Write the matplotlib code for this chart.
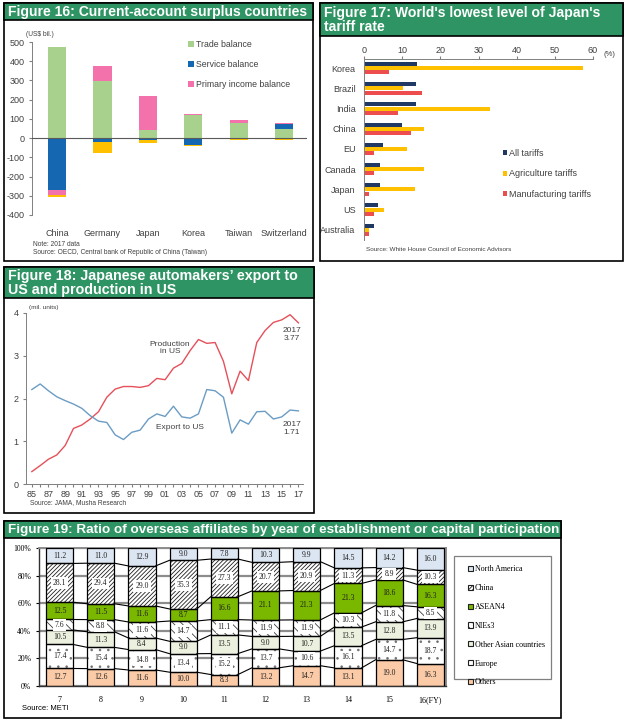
import matplotlib
matplotlib.use('Agg')
import numpy as np
from matplotlib import pyplot as plt
from matplotlib.patches import Rectangle, Patch

plt.rcParams['font.family'] = ['Liberation Sans', 'DejaVu Sans']
plt.rcParams['hatch.linewidth'] = 0.6
plt.rcParams['axes.unicode_minus'] = False

W, H = 629, 724
GREEN = '#2f9463'
GREY_TXT = '#404040'

# Figure 16: current account (US$ bil.)
ca_countries = ['China', 'Germany', 'Japan', 'Korea', 'Taiwan', 'Switzerland']
trade_balance = [476, 297, 44, 120, 80, 50]
service_balance = [-268, -20, -8, -36, -6, 22]
primary_income = [-29, 78, 176, 4, 16, 6]
secondary_income = [-10, -58, -20, -4, -3, -10]

# Figure 17: tariff rates (%)
tariff_countries = ['Korea', 'Brazil', 'India', 'China', 'EU', 'Canada', 'Japan', 'US', 'Australia']
all_tariffs = [14.0, 13.6, 13.6, 10.0, 5.1, 4.2, 4.2, 3.6, 2.6]
agri_tariffs = [57.3, 10.1, 33.0, 15.6, 11.2, 15.6, 13.3, 5.3, 1.2]
manuf_tariffs = [6.6, 15.3, 8.9, 12.3, 2.6, 2.6, 1.2, 2.5, 1.2]

# Figure 18: mil. units
years = list(range(1985, 2018))
production_us = [0.29, 0.43, 0.58, 0.68, 0.90, 1.30, 1.38, 1.52, 1.69, 2.03,
                 2.22, 2.28, 2.28, 2.26, 2.30, 2.47, 2.44, 2.71, 2.82, 3.12,
                 3.38, 3.29, 3.31, 2.87, 2.11, 2.64, 2.42, 3.31, 3.59, 3.78,
                 3.84, 3.96, 3.77]
export_us = [2.21, 2.34, 2.18, 2.04, 1.95, 1.87, 1.77, 1.60, 1.47, 1.44,
             1.15, 1.04, 1.21, 1.26, 1.52, 1.64, 1.58, 1.82, 1.57, 1.54,
             1.64, 2.21, 2.18, 2.03, 1.19, 1.50, 1.40, 1.69, 1.70, 1.52,
             1.57, 1.73, 1.71]

# Figure 19: share of overseas affiliates (%)
fy_labels = ['7', '8', '9', '10', '11', '12', '13', '14', '15', '16(FY)']
others = [12.7, 12.6, 11.6, 10.0, 8.3, 13.2, 14.7, 13.1, 19.0, 16.3]
europe = [17.4, 15.4, 14.8, 13.4, 15.2, 13.7, 10.6, 16.1, 14.7, 18.7]
other_asia = [10.5, 11.3, 8.4, 9.0, 13.5, 9.0, 10.7, 13.5, 12.8, 13.9]
nies3 = [7.6, 8.8, 11.6, 14.7, 11.1, 11.9, 11.9, 10.3, 11.8, 8.5]
asean4 = [12.5, 11.5, 11.6, 8.7, 16.6, 21.1, 21.3, 21.3, 18.6, 16.3]
china = [28.1, 29.4, 29.0, 35.3, 27.3, 20.7, 20.9, 11.3, 8.9, 10.3]
north_america = [11.2, 11.0, 12.9, 9.0, 7.8, 10.3, 9.9, 14.5, 14.2, 16.0]

fig = plt.figure(figsize=(W / 100, H / 100), dpi=100)
renderer = fig.canvas.get_renderer()


def new_axes(x0, y0, x1, y1):
    return fig.add_axes([x0 / W, 1 - y1 / H, (x1 - x0) / W, (y1 - y0) / H])


def px_text(x, y, s, **kw):
    return fig.text(x / W, 1 - y / H, s, **kw)


def box(x0, y0, x1, y1, **kw):
    fig.add_artist(Rectangle((x0 / W, 1 - y1 / H), (x1 - x0) / W, (y1 - y0) / H,
                             transform=fig.transFigure, **kw))


def panel(x0, y0, x1, y_title, y1, title, title_width):
    box(x0, y0, x1, y1, facecolor='none', edgecolor='black', lw=1.2, zorder=5)
    box(x0, y0, x1, y_title, facecolor=GREEN, edgecolor='black', lw=1.2, zorder=5)
    t = px_text(x0 + 4, (y0 + y_title) / 2 + 0.5, title, color='white', fontweight='bold',
                fontsize=11, va='center', ha='left', linespacing=1.05, zorder=6)
    w = t.get_window_extent(renderer).width
    t.set_fontsize(11 * title_width / w)


panel(4, 3, 313, 20, 261, 'Figure 16: Current-account surplus countries', 300)
panel(320, 3, 623, 36, 261, "Figure 17: World's lowest level of Japan's\ntariff rate", 277)
panel(4, 267, 314, 298, 513, 'Figure 18: Japanese automakers\u2019 export to\nUS and production in US', 289)
panel(4, 521, 561, 538, 718,
      'Figure 19: Ratio of overseas affiliates by year of establishment or capital participation', 550)

# ---- Figure 16
ax1 = new_axes(32, 42, 307, 215)
x = np.arange(len(ca_countries))
pos_bottom = np.zeros(len(x))
neg_bottom = np.zeros(len(x))
for vals, color, label in [(trade_balance, '#a9d18e', 'Trade balance'),
                           (service_balance, '#1467b0', 'Service balance'),
                           (primary_income, '#f472ab', 'Primary income balance'),
                           (secondary_income, '#ffc000', '_nolegend_')]:
    vals = np.array(vals, dtype=float)
    bottoms = np.where(vals >= 0, pos_bottom, neg_bottom)
    ax1.bar(x, vals, 0.4, bottom=bottoms, color=color, label=label, zorder=2)
    pos_bottom += np.clip(vals, 0, None)
    neg_bottom += np.clip(vals, None, 0)
ax1.axhline(0, color='#595959', lw=0.8, zorder=3)
ax1.set_xlim(-0.55, 5.5)
ax1.set_ylim(-400, 500)
ax1.set_yticks(range(-400, 501, 100))
ax1.set_xticks(x)
ax1.set_xticklabels(ca_countries)
ax1.tick_params(axis='x', length=0, labelsize=6.5, labelcolor=GREY_TXT, pad=10)
ax1.tick_params(axis='y', length=2, labelsize=6.5, labelcolor=GREY_TXT, color='#808080')
for s in ['top', 'right', 'bottom']:
    ax1.spines[s].set_visible(False)
ax1.spines['left'].set_color('#808080')
ax1.spines['left'].set_linewidth(0.7)
ax1.legend(loc='upper left', bbox_to_anchor=(0.54, 1.055), frameon=False, fontsize=6.3,
           handlelength=0.65, handleheight=0.65, handletextpad=0.2, labelspacing=1.25,
           labelcolor=GREY_TXT)
px_text(26, 34, '(US$ bil.)', fontsize=4.8, color=GREY_TXT, va='center')
px_text(33, 245, 'Note: 2017 data', fontsize=4.8, color=GREY_TXT, va='center')
px_text(33, 252, 'Source: OECD, Central bank of Republic of China (Taiwan)', fontsize=4.8,
        color=GREY_TXT, va='center')

# ---- Figure 17
ax2 = new_axes(364, 59, 593, 240)
y = np.arange(len(tariff_countries))
ax2.barh(y - 0.21, all_tariffs, 0.2, color='#203864', label='All tariffs')
ax2.barh(y, agri_tariffs, 0.2, color='#ffc000', label='Agriculture tariffs')
ax2.barh(y + 0.21, manuf_tariffs, 0.2, color='#ee4d4d', label='Manufacturing tariffs')
ax2.set_xlim(0, 60)
ax2.set_ylim(8.5, -0.45)
ax2.xaxis.tick_top()
ax2.set_xticks(range(0, 61, 10))
ax2.set_yticks(y)
ax2.set_yticklabels(tariff_countries)
ax2.tick_params(axis='x', length=2, labelsize=6.5, labelcolor=GREY_TXT, color='#808080', pad=1)
ax2.tick_params(axis='y', length=0, labelsize=6.5, labelcolor=GREY_TXT, pad=6)
for s in ['right', 'bottom']:
    ax2.spines[s].set_visible(False)
for s in ['top', 'left']:
    ax2.spines[s].set_color('#808080')
    ax2.spines[s].set_linewidth(0.7)
ax2.legend(loc='upper left', bbox_to_anchor=(0.57, 0.55), frameon=False, fontsize=6.5,
           handlelength=0.5, handleheight=0.5, handletextpad=0.2, labelspacing=1.3,
           labelcolor=GREY_TXT)
px_text(604, 55, '(%)', fontsize=5.5, color=GREY_TXT, va='center')
px_text(366, 250, 'Source: White House Council of Economic Advisors', fontsize=4.6,
        color=GREY_TXT, va='center')

# ---- Figure 18
ax3 = new_axes(26, 313, 303, 484)
ax3.plot(years, production_us, color='#e5505a', lw=1)
ax3.plot(years, export_us, color='#6b9cc4', lw=1)
ax3.set_xlim(1984.3, 2017.55)
ax3.set_ylim(0, 4)
ax3.set_yticks(range(0, 5))
ax3.set_xticks(years)
ax3.set_xticklabels([f'{yr % 100:02d}' if (yr - 1985) % 2 == 0 else '' for yr in years])
ax3.tick_params(axis='x', length=2, labelsize=6.5, labelcolor=GREY_TXT, color='#808080', pad=2)
ax3.tick_params(axis='y', length=2, labelsize=6.5, labelcolor=GREY_TXT, color='#808080')
for s in ['top', 'right']:
    ax3.spines[s].set_visible(False)
for s in ['left', 'bottom']:
    ax3.spines[s].set_color('#808080')
    ax3.spines[s].set_linewidth(0.7)
ax3.text(2001.6, 3.18, 'Production\nin US', fontsize=6, color=GREY_TXT, ha='center', va='center',
         linespacing=1.1)
ax3.text(2002.8, 1.33, 'Export to US', fontsize=6, color=GREY_TXT, ha='center', va='center')
ax3.text(2016.2, 3.50, '2017\n3.77', fontsize=6, color=GREY_TXT, ha='center', va='center',
         linespacing=1.1)
ax3.text(2016.2, 1.30, '2017\n1.71', fontsize=6, color=GREY_TXT, ha='center', va='center',
         linespacing=1.1)
px_text(29, 307, '(mil. units)', fontsize=4.6, color=GREY_TXT, va='center')
px_text(30, 503, 'Source: JAMA, Musha Research', fontsize=4.8, color=GREY_TXT, va='center')

# ---- Figure 19
SERIF = ['Liberation Serif', 'DejaVu Serif']
ax4 = new_axes(39, 548, 446, 686)
series = [('Others', others, '#fbcaa6', None, None),
          ('Europe', europe, 'white', '..', '#707070'),
          ('Other Asian countries', other_asia, '#ebf1de', None, None),
          ('NIEs3', nies3, 'white', '\\\\\\\\', '#404040'),
          ('ASEAN4', asean4, '#7ab800', None, None),
          ('China', china, 'white', '////////', '#202020'),
          ('North America', north_america, '#dce6f2', None, None)]
xb = np.arange(len(fy_labels))
bw = 0.66
bottom = np.zeros(len(xb))
levels = []
handles = []
for name, vals, face, hatch, hcol in series:
    vals = np.array(vals, dtype=float)
    ax4.bar(xb, vals, bw, bottom=bottom, color=face, hatch=hatch,
            edgecolor=hcol if hatch else face, lw=0, zorder=2)
    ax4.bar(xb, vals, bw, bottom=bottom, fill=False, edgecolor='black', lw=0.9, zorder=3)
    for i, v in enumerate(vals):
        kw = {}
        if hatch:
            kw['bbox'] = dict(facecolor='white', edgecolor='none', pad=1.4)
        ax4.text(xb[i], bottom[i] + v / 2, f'{v:.1f}', ha='center', va='center', fontsize=5.5,
                 family=SERIF, color='#202020', zorder=4, **kw)
    bottom = bottom + vals
    levels.append(bottom.copy())
    handles.append(Patch(facecolor=face, hatch=hatch, edgecolor='#202020', lw=0.8, label=name))
for level in levels[:-1]:
    for i in range(len(xb) - 1):
        ax4.plot([xb[i] + bw / 2, xb[i + 1] - bw / 2], [level[i], level[i + 1]],
                 color='black', lw=0.8, zorder=3)
ax4.set_xlim(-0.5, 9.38)
ax4.set_ylim(0, 100)
ax4.set_yticks(range(0, 101, 20))
ax4.set_yticklabels([f'{v}%' for v in range(0, 101, 20)], family=SERIF)
ax4.set_xticks(xb)
ax4.set_xticklabels(fy_labels, family=SERIF)
ax4.yaxis.grid(True, color='#8c8c8c', lw=1.6)
ax4.set_axisbelow(True)
ax4.tick_params(axis='x', length=0, labelsize=5.8, pad=7)
ax4.tick_params(axis='y', length=2, labelsize=5.5)
for s in ['top', 'right']:
    ax4.spines[s].set_color('#8c8c8c')
    ax4.spines[s].set_linewidth(1.4)
for s in ['left', 'bottom']:
    ax4.spines[s].set_color('#303030')
    ax4.spines[s].set_linewidth(1.0)

box(454, 556, 551, 679, facecolor='white', edgecolor='#808080', lw=0.9, zorder=4)
fig.legend(handles=handles[::-1], loc='upper left', bbox_to_anchor=(461 / W, 1 - 558 / H),
           frameon=False, prop={'family': SERIF, 'size': 5.8}, handlelength=0.6,
           handleheight=0.6, handletextpad=0.2, labelspacing=1.35)
px_text(22, 709, 'Source: METI', fontsize=5.5, color='black', va='center')

fig.savefig('out.png', dpi=100)
